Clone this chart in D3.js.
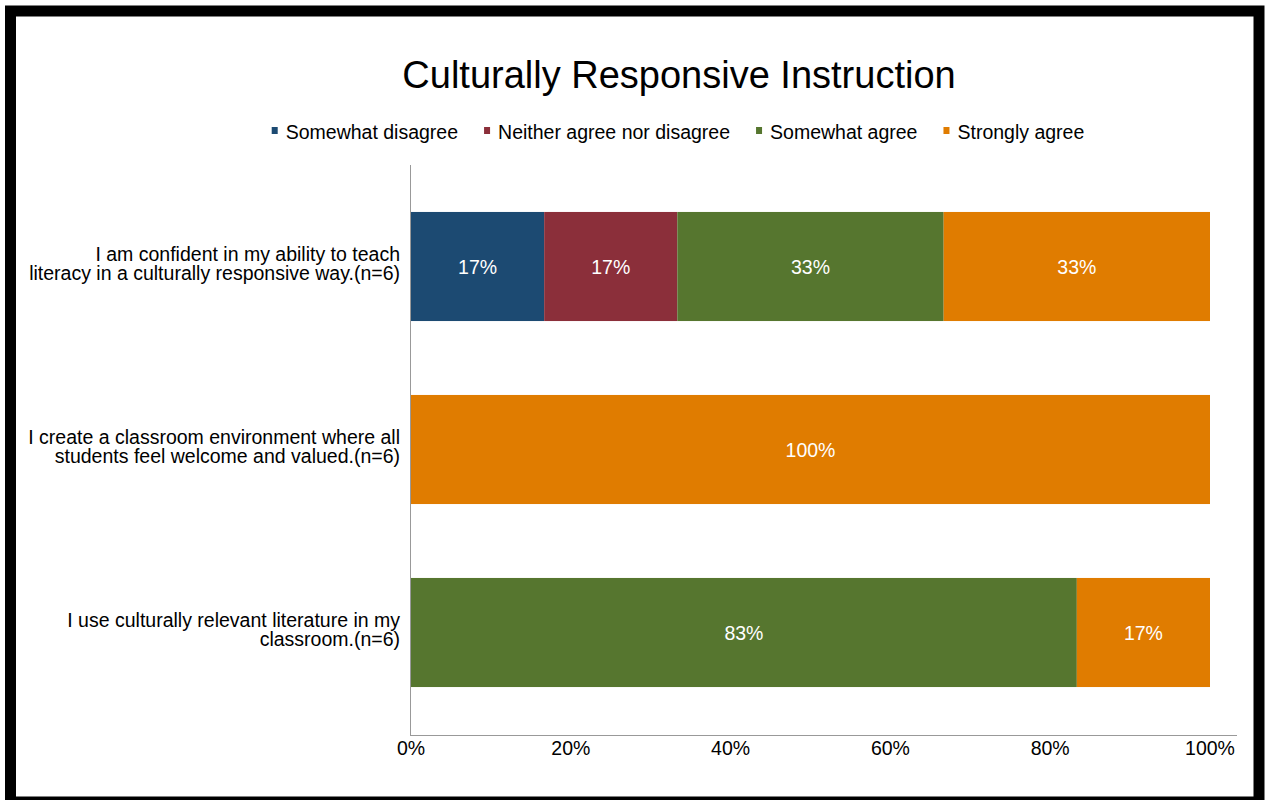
<!DOCTYPE html>
<html>
<head>
  <style>
    body { margin: 0; background: white; }
    text { font-family: "Liberation Sans", Arial, sans-serif; }
  </style>
</head>
<body>
  <script src="https://d3js.org/d3.v7.min.js"></script>
  <script>
    var width = 1269, height = 800;

    // data (respondent counts, n=6 per statement)
    var series = ["Somewhat disagree", "Neither agree nor disagree", "Somewhat agree", "Strongly agree"];
    var colors = ["#1c4a72", "#8b2f3a", "#56762f", "#e07c00"];
    var questions = [
      ["I am confident in my ability to teach", "literacy in a culturally responsive way.(n=6)"],
      ["I create a classroom environment where all", "students feel welcome and valued.(n=6)"],
      ["I use culturally relevant literature in my", "classroom.(n=6)"]
    ];
    var disagree = [1, 0, 0];
    var neither = [1, 0, 0];
    var agree = [2, 0, 5];
    var strongly = [2, 6, 1];
    var ticks = [0, 20, 40, 60, 80, 100];

    var fs = 19.5;

    var svg = d3.select("body").append("svg")
        .attr("width", width).attr("height", height);

    // frame
    svg.append("rect").attr("x", 0).attr("y", 0).attr("width", width).attr("height", height).attr("fill", "white");
    svg.append("rect").attr("x", 10.5).attr("y", 11).attr("width", 1248.5).attr("height", 791)
        .attr("fill", "none").attr("stroke", "black").attr("stroke-width", 11);

    var x = d3.scaleLinear().domain([0, 100]).range([411, 1210]);
    var y = d3.scaleBand().domain(d3.range(questions.length)).range([175, 724])
        .paddingInner(0.404).paddingOuter(0.202);

    var rows = questions.map((q, i) => {
      var vals = [disagree[i], neither[i], agree[i], strongly[i]];
      var total = d3.sum(vals), acc = 0;
      return vals.map((v, k) => {
        var s = acc; acc += v;
        return {row: i, k: k, v: v, pct: Math.round(v / total * 100), x0: s / total * 100, x1: acc / total * 100};
      }).filter(d => d.v > 0);
    });
    var segs = rows.flat();

    svg.append("text").attr("x", 679).attr("y", 88).attr("text-anchor", "middle")
        .attr("font-size", 38).attr("fill", "#000").text("Culturally Responsive Instruction");

    // legend
    var legend = svg.append("g");
    var lx = 0;
    series.forEach((s, i) => {
      var g = legend.append("g").attr("transform", "translate(" + lx + ",0)");
      g.append("rect").attr("x", 0).attr("y", -12).attr("width", 6).attr("height", 7).attr("fill", colors[i]);
      var t = g.append("text").attr("x", 14).attr("y", 0).attr("font-size", fs).attr("fill", "#000").text(s);
      lx += 14 + t.node().getComputedTextLength() + 26;
    });
    lx -= 26;
    legend.attr("transform", "translate(" + (678 - lx / 2) + ",139)");

    // bars
    svg.selectAll("rect.bar").data(segs).enter().append("rect")
        .attr("class", "bar")
        .attr("x", d => x(d.x0))
        .attr("width", d => x(d.x1) - x(d.x0))
        .attr("y", d => y(d.row))
        .attr("height", y.bandwidth())
        .attr("fill", d => colors[d.k]);

    svg.selectAll("text.val").data(segs).enter().append("text")
        .attr("class", "val")
        .attr("x", d => (x(d.x0) + x(d.x1)) / 2)
        .attr("y", d => y(d.row) + y.bandwidth() / 2 + 7)
        .attr("text-anchor", "middle").attr("font-size", fs).attr("fill", "white")
        .text(d => d.pct + "%");

    // category labels
    questions.forEach((q, i) => {
      var t = svg.append("text").attr("text-anchor", "end").attr("font-size", fs).attr("fill", "#000")
          .attr("y", y(i) + y.bandwidth() / 2 - 6);
      q.forEach((line, j) => {
        t.append("tspan").attr("x", 400).attr("dy", j === 0 ? 0 : 19.5).text(line);
      });
    });

    // axes
    svg.append("line").attr("x1", 410.5).attr("x2", 410.5).attr("y1", 165).attr("y2", 735)
        .attr("stroke", "#999");
    svg.append("line").attr("x1", 410).attr("x2", 1237).attr("y1", 735.5).attr("y2", 735.5)
        .attr("stroke", "#999");
    svg.selectAll("text.tick").data(ticks).enter().append("text")
        .attr("class", "tick")
        .attr("x", d => x(d)).attr("y", 755)
        .attr("text-anchor", "middle").attr("font-size", fs).attr("fill", "#000")
        .text(d => d + "%");
  </script>
</body>
</html>
